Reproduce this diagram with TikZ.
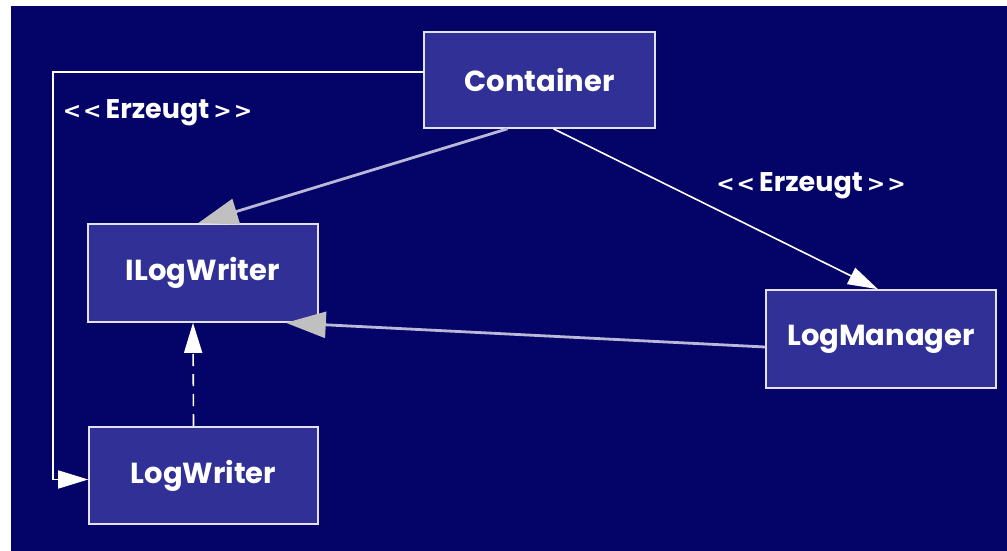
\documentclass[tikz,border=0pt]{standalone}
\usepackage{fontspec}
\setmainfont{Poppins}
\newfontfamily\arrowsym{DejaVu Sans}
\usetikzlibrary{arrows.meta}
\definecolor{bg}{RGB}{3,3,104}
\definecolor{boxfill}{RGB}{48,48,150}
\definecolor{boxline}{RGB}{225,225,240}
\definecolor{grayline}{RGB}{185,185,215}
\definecolor{grayhead}{RGB}{192,192,192}
\newcommand{\lt}{{\arrowsym\fontsize{22}{26}\selectfont\bfseries <\kern2pt<}}
\newcommand{\gt}{{\arrowsym\fontsize{22}{26}\selectfont\bfseries >\kern2pt>}}
\begin{document}
\begin{tikzpicture}[x=1pt,y=-1pt,
  cls/.style={draw=boxline, line width=1.6pt, fill=boxfill, text=white,
    font=\fontsize{29}{34}\selectfont\bfseries, inner sep=0pt},
  lbl/.style={text=white, font=\fontsize{27}{30}\selectfont\bfseries, inner sep=0pt},
  whitearrow/.style={draw=white, line width=1.6pt,
    -{Triangle[length=30pt,width=18pt,fill=white]}},
  grayarrow/.style={draw=grayline, line width=2.8pt,
    -{Triangle[length=40pt,width=26pt,fill=grayhead,color=grayhead]}},
  dasharrow/.style={whitearrow, dash pattern=on 12pt off 8pt}]
\useasboundingbox (0,0) rectangle (1007,551);
\fill[white] (0,0) rectangle (1007,551);
\fill[bg] (11,6) rectangle (1007,551);
\node[cls, minimum width=231pt, minimum height=96pt] (cont) at (539.5,80) {\raisebox{-3pt}{Container}};
\node[cls, minimum width=230pt, minimum height=98pt] (ilw) at (203,273) {\raisebox{-4pt}{ILogWriter}};
\node[cls, minimum width=230pt, minimum height=98pt] (lm) at (881,339) {\raisebox{-1pt}{LogManager}};
\node[cls, minimum width=229pt, minimum height=97pt] (lw) at (203.5,475.5) {\raisebox{-2pt}{LogWriter}};
\coordinate (k1) at (53,72);
\draw[whitearrow] (cont.west |- k1) -- (k1) |- ([yshift=-4pt]lw.west);
\node[lbl] (l1) at (157.5,113) {\lt\kern4pt Erzeugt\kern4pt\gt};
\draw[grayarrow] ([xshift=-32pt]cont.south) -- ([xshift=-5pt]ilw.north);
\draw[whitearrow] ([xshift=14pt]cont.south) -- ([xshift=-3pt]lm.north);
\node[lbl] (l2) at (811,186) {\lt\kern4pt Erzeugt\kern4pt\gt};
\draw[grayarrow] ([yshift=-8pt]lm.west) -- ([xshift=-33pt]ilw.south east);
\draw[dasharrow] ([xshift=-10pt]lw.north) -- ([xshift=-10pt]ilw.south);
\end{tikzpicture}
\end{document}
